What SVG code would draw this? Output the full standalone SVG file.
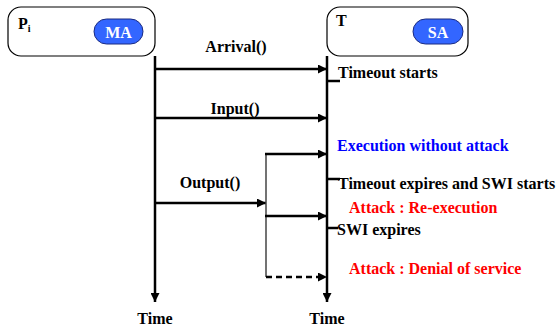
<svg xmlns="http://www.w3.org/2000/svg" width="559" height="326" viewBox="0 0 559 326">
<defs>
<marker id="ah" viewBox="0 0 10 10" refX="10" refY="5" markerWidth="10" markerHeight="9" markerUnits="userSpaceOnUse" orient="auto">
<path d="M0,0 L10,5 L0,10 z" fill="#000"/>
</marker>
</defs>
<style>
.box{fill:#fff;stroke:#000;stroke-width:1.2}
.pill{fill:#3366ff;stroke:#1a2a80;stroke-width:1}
.pt{font-family:"Liberation Serif",serif;font-weight:bold;font-size:16px;fill:#fff;text-anchor:middle}
.t{font-family:"Liberation Serif",serif;font-weight:bold;font-size:16px;fill:#000}
.c{text-anchor:middle}
.blue{fill:#0000ff}
.red{fill:#ff0000}
.ln{stroke:#000;stroke-width:2.5;fill:none}
.thin{stroke:#444;stroke-width:1.5;fill:none}
</style>
<g id="node-Pi">
<rect class="box" x="8" y="7" width="147" height="49" rx="13"/>
<text class="t" x="18" y="29" font-size="15">P<tspan font-size="10" dy="3">i</tspan></text>
<rect class="pill" x="94" y="19" width="49" height="25" rx="12.5"/>
<text class="pt" x="118.5" y="38">MA</text>
</g>
<g id="node-T">
<rect class="box" x="327" y="7" width="141" height="49" rx="13"/>
<text class="t" x="336" y="26" font-size="15">T</text>
<rect class="pill" x="413" y="19" width="50" height="25" rx="12.5"/>
<text class="pt" x="438" y="38">SA</text>
</g>
<g id="connectors">
<line class="ln" x1="155" y1="56" x2="155" y2="302" marker-end="url(#ah)"/>
<line class="ln" x1="327" y1="56" x2="327" y2="302" marker-end="url(#ah)"/>
<line class="ln" x1="155" y1="69" x2="327" y2="69" marker-end="url(#ah)"/>
<line class="ln" x1="155" y1="118" x2="327" y2="118" marker-end="url(#ah)"/>
<line class="ln" x1="155" y1="203" x2="266" y2="203" marker-end="url(#ah)"/>
<line class="thin" x1="266" y1="154" x2="266" y2="277"/>
<line class="ln" x1="265" y1="154" x2="327" y2="154" marker-end="url(#ah)"/>
<line class="ln" x1="265" y1="216" x2="327" y2="216" marker-end="url(#ah)"/>
<line class="ln" x1="266" y1="277" x2="327" y2="277" stroke-dasharray="6,4" marker-end="url(#ah)"/>
<line class="ln" x1="327" y1="81" x2="340" y2="81" stroke-width="1.8"/>
<line class="ln" x1="327" y1="179" x2="340" y2="179" stroke-width="1.8"/>
<line class="ln" x1="327" y1="228" x2="338" y2="228" stroke-width="1.8"/>
</g>
<g id="labels">
<text class="t c" x="236" y="52">Arrival()</text>
<text class="t c" x="235" y="114">Input()</text>
<text class="t c" x="210" y="188">Output()</text>
<text class="t" x="338" y="78">Timeout starts</text>
<text class="t blue" x="337" y="151">Execution without attack</text>
<text class="t" x="338" y="189">Timeout expires and SWI starts</text>
<text class="t red" x="349" y="213">Attack : Re-execution</text>
<text class="t" x="337" y="235">SWI expires</text>
<text class="t red" x="349" y="274">Attack : Denial of service</text>
<text class="t c" x="155" y="324">Time</text>
<text class="t c" x="327" y="324">Time</text>
</g>
</svg>
